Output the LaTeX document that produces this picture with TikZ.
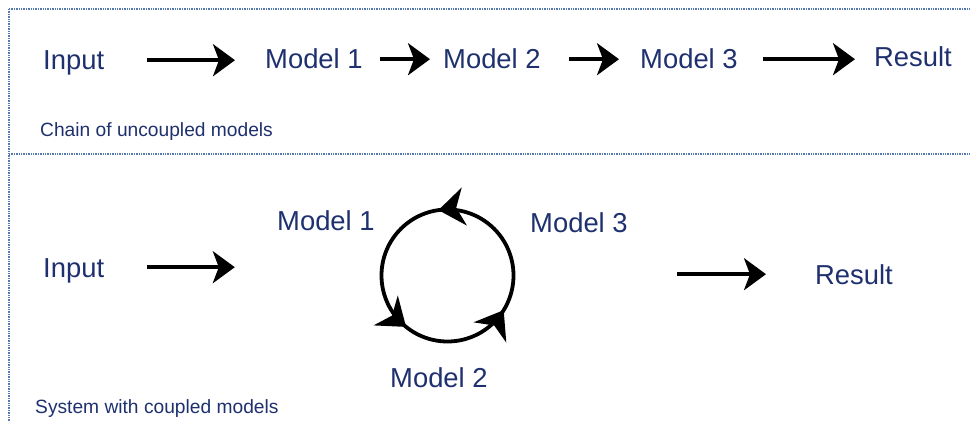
\documentclass[tikz,border=0pt]{standalone}
\usepackage{fontspec}
\setmainfont{Liberation Sans}
\usetikzlibrary{arrows.meta,fit,decorations.markings}
\definecolor{navy}{RGB}{30,48,110}
\definecolor{frameblue}{RGB}{84,120,176}
\begin{document}
\begin{tikzpicture}[x=1pt,y=1pt,
  word/.style={anchor=base west,inner sep=0pt,text=navy,font=\fontsize{27.4}{30}\selectfont,text height=19.6pt,text depth=0pt},
  note/.style={anchor=base west,inner sep=0pt,text=navy,font=\fontsize{19.2}{21}\selectfont},
  flow/.style={line width=3.6pt,-{Stealth[length=22pt,width=32pt,inset=6pt]}},
  frame/.style={frameblue,line width=1.4pt,densely dotted},
  ring/.style={line width=3.8pt,postaction={decorate},
    decoration={markings,
      mark=at position 0.272 with {\arrow{Stealth[length=26pt,width=38pt,inset=8pt]}},
      mark=at position 0.642 with {\arrow{Stealth[length=26pt,width=38pt,inset=8pt]}},
      mark=at position 0.912 with {\arrow{Stealth[length=26pt,width=38pt,inset=8pt]}}}}]
 \useasboundingbox (0,0) rectangle (971,421);
 % dotted frames of the two panels
 \draw[frame] (9,412) -- (971,412);
 \draw[frame] (9,267) -- (971,267);
 \draw[frame] (9,412) -- (9,0);

 % chain of uncoupled models
 \node[word] (in1) at (43,351) {Input};
 \node[word] (m1) at (265,352) {Model 1};
 \node[word] (m2) at (443,352) {Model 2};
 \node[word] (m3) at (640,352) {Model 3};
 \node[word] (res1) at (874,354) {Result};
 \draw[flow,shorten <=43pt,shorten >=30pt] (in1.east) -- (in1.east -| m1.west);
 \draw[flow,shorten <=17pt,shorten >=13pt] (m1.east) -- (m1.east -| m2.west);
 \draw[flow,shorten <=28pt,shorten >=21pt] (m2.east) -- (m2.east -| m3.west);
 \draw[flow,shorten <=25pt,shorten >=19pt] (m3.east) -- (m3.east -| res1.west);
 \node[note] (chain) at (40,284) {Chain of uncoupled models};

 % system with coupled models
 \node[word] (in2) at (43,144) {Input};
 \node[word] (m1b) at (277,191) {Model 1};
 \node[word] (m3b) at (530,189) {Model 3};
 \node[word] (m2b) at (390,34) {Model 2};
 \node[word] (res2) at (815,137) {Result};
 \coordinate (hub) at (447.5,145.5);
 \draw[ring] (hub) circle (66);
 \node[fit=(m1b)(m2b)(m3b),inner sep=0pt] (sys) {};
 \draw[flow,shorten <=43pt,shorten >=42pt] (in2.east) -- (in2.east -| sys.west);
 \draw[flow,shorten <=49pt,shorten >=49pt] (res2.west -| sys.east) -- (res2.west);
 \node[note] (coupled) at (35,8) {System with coupled models};
\end{tikzpicture}
\end{document}
